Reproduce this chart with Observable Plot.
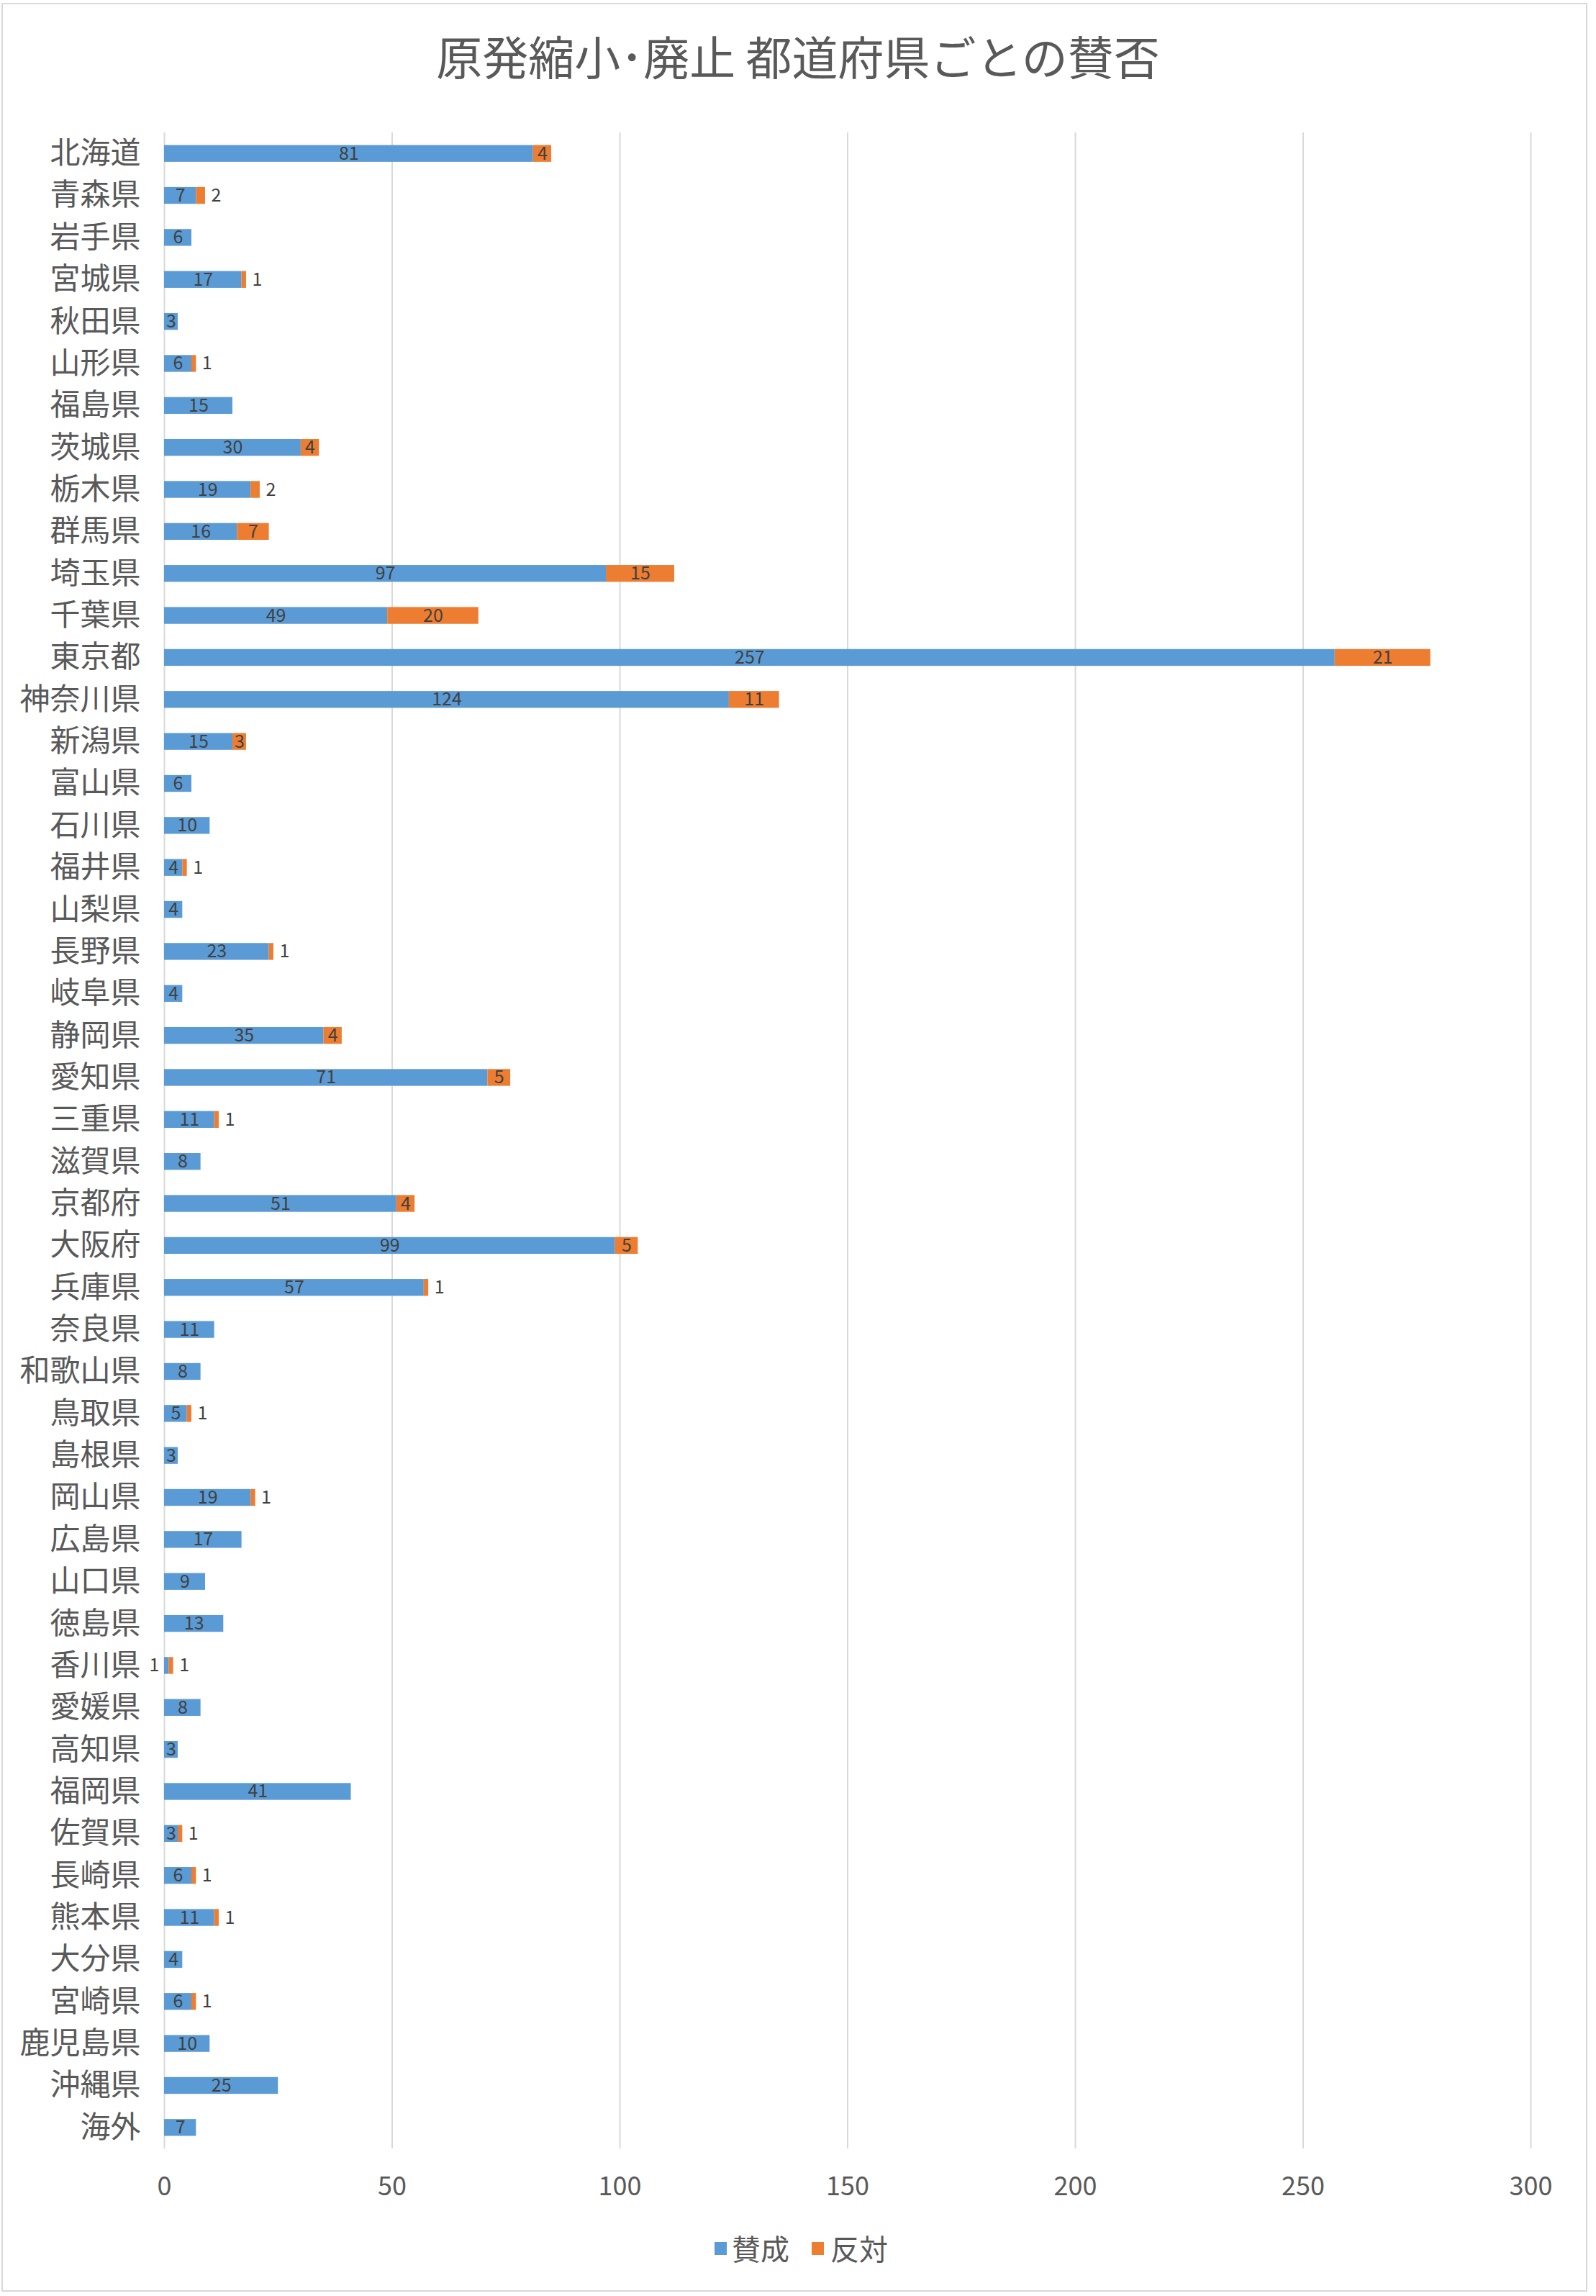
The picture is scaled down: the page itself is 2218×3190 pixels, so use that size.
<!DOCTYPE html>
<html><head><meta charset="utf-8">
<script src="https://cdn.jsdelivr.net/npm/d3@7"></script>
<script src="https://cdn.jsdelivr.net/npm/@observablehq/plot@0.6"></script>
<style>
html,body{margin:0;padding:0;background:#fff;}
#wrap{position:relative;width:2218px;height:3190px;overflow:hidden;font-family:"Noto Sans CJK JP","Noto Sans",sans-serif;color:#595959;}
#frame{position:absolute;left:2px;top:4px;width:2204px;height:3180px;border:2px solid #d9d9d9;box-sizing:border-box;}
#title{position:absolute;left:0;width:2218px;top:32px;text-align:center;font-size:64px;line-height:88px;color:#595959;}
#chart{position:absolute;left:0;top:150px;}
#legend{position:absolute;top:3098px;left:0;width:2218px;height:50px;}
.sw{position:absolute;width:17px;height:18px;top:17px;}
.lt{position:absolute;top:0;font-size:40px;line-height:50px;color:#595959;}
</style></head><body>
<div id="wrap">
<div id="frame"></div>
<div id="title">原発縮小･廃止 都道府県ごとの賛否</div>
<div id="chart"></div>
<div id="legend">
<div class="sw" style="left:993px;background:#5B9BD5"></div><div class="lt" style="left:1017px">賛成</div>
<div class="sw" style="left:1128px;background:#ED7D31"></div><div class="lt" style="left:1154px">反対</div>
</div>
</div>
<script>
const prefectures = ["北海道","青森県","岩手県","宮城県","秋田県","山形県","福島県","茨城県","栃木県","群馬県","埼玉県","千葉県","東京都","神奈川県","新潟県","富山県","石川県","福井県","山梨県","長野県","岐阜県","静岡県","愛知県","三重県","滋賀県","京都府","大阪府","兵庫県","奈良県","和歌山県","鳥取県","島根県","岡山県","広島県","山口県","徳島県","香川県","愛媛県","高知県","福岡県","佐賀県","長崎県","熊本県","大分県","宮崎県","鹿児島県","沖縄県","海外"];
const agree =    [81,7,6,17,3,6,15,30,19,16,97,49,257,124,15,6,10,4,4,23,4,35,71,11,8,51,99,57,11,8,5,3,19,17,9,13,1,8,3,41,3,6,11,4,6,10,25,7];
const disagree = [4,2,0,1,0,1,0,4,2,7,15,20,21,11,3,0,0,1,0,1,0,4,5,1,0,4,5,1,0,0,1,0,1,0,0,0,1,0,0,0,1,1,1,0,1,0,0,0];
const series = ["賛成","反対"];
const colors = ["#5B9BD5","#ED7D31"];
const xTicks = [0,50,100,150,200,250,300];

const rows = [];
prefectures.forEach((p,i)=>{
  rows.push({pref:p, series:"賛成", x1:0, x2:agree[i], v:agree[i]});
  if (disagree[i] > 0) rows.push({pref:p, series:"反対", x1:agree[i], x2:agree[i]+disagree[i], v:disagree[i]});
});
const inside = rows.filter(d => d.v > 2);
const outRight = rows.filter(d => d.series==="反対" && d.v <= 2);
const outLeft = rows.filter(d => d.series==="賛成" && d.v <= 2);

const chart = Plot.plot({
  width: 2218,
  height: 2930,
  marginLeft: 228,
  marginRight: 91,
  marginTop: 34,
  marginBottom: 95,
  style: {fontFamily: '"Noto Sans CJK JP","Noto Sans",sans-serif', background: "transparent", color: "#595959"},
  x: {domain: [0,300], ticks: xTicks, label: null},
  y: {domain: prefectures, paddingInner: 0.6, paddingOuter: 0.3, round: false, label: null},
  color: {domain: series, range: colors},
  marks: [
    Plot.gridX(xTicks, {stroke: "#d9d9d9", strokeOpacity: 1, strokeWidth: 2}),
    Plot.barX(rows, {x1: "x1", x2: "x2", y: "pref", fill: "series"}),
    Plot.text(inside, {x: d => (d.x1+d.x2)/2, y: "pref", text: d => String(d.v), fill: "#404040", fontSize: 25}),
    Plot.text(outRight, {x: "x2", y: "pref", text: d => String(d.v), fill: "#404040", fontSize: 25, dx: 8, textAnchor: "start"}),
    Plot.text(outLeft, {x: "x1", y: "pref", text: d => String(d.v), fill: "#404040", fontSize: 25, dx: -7, textAnchor: "end"}),
    Plot.axisY({tickSize: 0, tickPadding: 33, fontSize: 42, label: null, fill: "#595959"}),
    Plot.axisX({ticks: xTicks, tickSize: 0, tickPadding: 39, fontSize: 36, label: null, fill: "#595959"})
  ]
});
document.getElementById("chart").appendChild(chart);
</script>
</body></html>
